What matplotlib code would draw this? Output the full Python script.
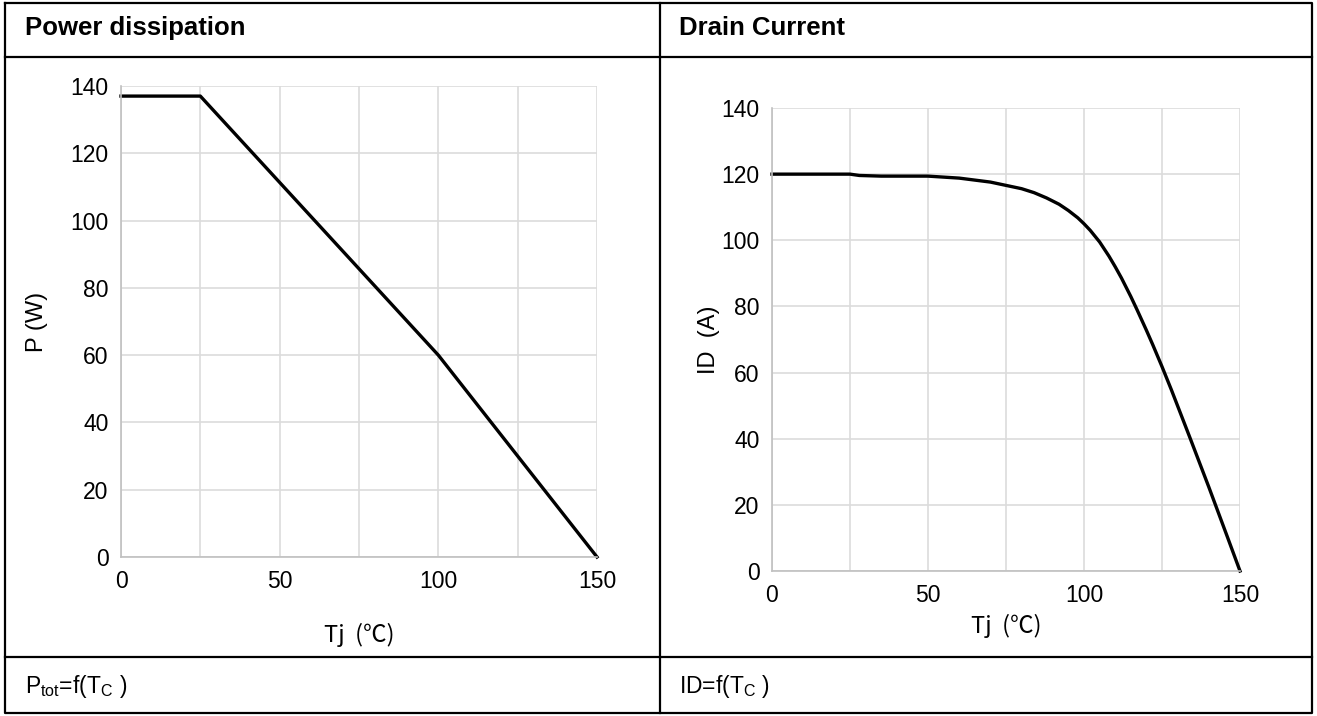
import matplotlib
matplotlib.use('Agg')
import matplotlib.pyplot as plt
from matplotlib.ticker import MultipleLocator

plt.rcParams['font.family'] = ['Liberation Sans', 'DejaVu Sans']
plt.rcParams['mathtext.fontset'] = 'custom'
plt.rcParams['mathtext.rm'] = 'Liberation Sans'

# 데이터
temp_p = [0, 25, 100, 150]
power = [137, 137, 60, 0]

temp_i = [0, 25, 28, 35, 50, 60, 70, 80, 84, 88, 92, 95, 98, 100, 102, 105,
          108, 110, 112, 115, 117, 120, 122, 125, 128, 131, 134, 137, 140,
          143, 146, 150]
current = [120, 120, 119.6, 119.4, 119.4, 118.8, 117.6, 115.6, 114.4, 112.8,
           110.9, 109, 106.8, 105, 103, 99.5, 95.2, 92, 88.6, 83, 79, 72.8,
           68.5, 61.8, 54.8, 47.5, 40.2, 32.8, 25.4, 17.8, 10.2, 0]

x_ticks = [0, 50, 100, 150]
y_ticks = [0, 20, 40, 60, 80, 100, 120, 140]

W, H = 1317, 716
fig = plt.figure(figsize=(W / 100, H / 100), dpi=100)

# 표 테두리
bg = fig.add_axes([0, 0, 1, 1], zorder=-1)
bg.set_xlim(0, W)
bg.set_ylim(H, 0)
bg.axis('off')
lw = 1.6
bg.plot([5, 1312, 1312, 5, 5], [3, 3, 713, 713, 3], color='black', lw=lw)
bg.plot([5, 1312], [57, 57], color='black', lw=lw)
bg.plot([5, 1312], [657, 657], color='black', lw=lw)
bg.plot([660, 660], [3, 713], color='black', lw=lw)

bg.text(25, 28, 'Power dissipation', fontsize=18.5, fontweight='bold', va='center')
bg.text(679, 28, 'Drain Current', fontsize=18.5, fontweight='bold', va='center')
bg.text(25, 686, r'P$_{\mathregular{tot}}$=f(T$_{\mathregular{C}}$ )', fontsize=16.5, va='center')
bg.text(679, 686, r'ID=f(T$_{\mathregular{C}}$ )', fontsize=16.5, va='center')


def style(ax, ylabel, xlabel_pad, ylabel_pad):
    ax.set_xlim(0, 150)
    ax.set_ylim(0, 140)
    ax.set_xticks(x_ticks)
    ax.xaxis.set_minor_locator(MultipleLocator(25))
    ax.set_yticks(y_ticks)
    ax.grid(True, which='both', color='#dcdcdc', lw=1.2)
    ax.set_axisbelow(True)
    for s in ['top', 'right']:
        ax.spines[s].set_visible(False)
    for s in ['left', 'bottom']:
        ax.spines[s].set_color('#c0c0c0')
        ax.spines[s].set_linewidth(1.2)
    ax.tick_params(which='both', length=0, labelsize=16.5, pad=9)
    ax.set_xlabel('Tj  (℃)', fontsize=17, family=['Noto Sans CJK KR', 'DejaVu Sans'],
                  labelpad=xlabel_pad)
    ax.set_ylabel(ylabel, fontsize=17, labelpad=ylabel_pad)


ax1 = fig.add_axes([121 / W, 1 - 557 / H, 476 / W, 471 / H])
ax1.plot(temp_p, power, color='black', lw=2.4, clip_on=False)
style(ax1, 'P (W)', 22, 16)

ax2 = fig.add_axes([772 / W, 1 - 571 / H, 468 / W, 463 / H])
ax2.plot(temp_i, current, color='black', lw=2.4, clip_on=False)
style(ax2, 'ID  (A)', 5, 1)

fig.savefig('out.png', dpi=100)
